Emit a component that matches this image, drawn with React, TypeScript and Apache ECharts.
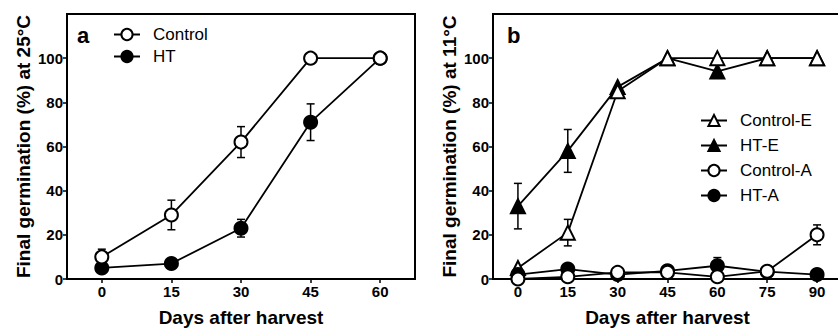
import React, { useEffect, useRef } from "react";
import * as echarts from "echarts";

// Panel a (25°C)
const daysA = [0, 15, 30, 45, 60];
const ctrl25 = [10, 29, 62, 100, 100];
const ctrl25Err = [3.5, 6.7, 7, 0, 0];
const ht25 = [5, 7, 23, 71, 100];
const ht25Err = [0, 0, 4, 8.3, 0];

// Panel b (11°C)
const daysB = [0, 15, 30, 45, 60, 75, 90];
const ctrlE11 = [5, 21, 85, 100, 100, 100, 100];
const ctrlE11Err = [0, 6, 0, 0, 0, 0, 0];
const htE11 = [33, 58, 87, 100, 94, 100, 100];
const htE11Err = [10.3, 9.7, 0, 0, 0, 0, 0];
const ctrlA11 = [0, 1, 3, 3, 1, 3.5, 20];
const ctrlA11Err = [0, 0, 0, 0, 0, 0, 4.5];
const htA11 = [2, 4.5, 2, 3.7, 6, 3.3, 2];
const htA11Err = [0, 0, 0, 0, 3.7, 0, 0];

const ticksA = [0, 15, 30, 45, 60];
const ticksB = [0, 15, 30, 45, 60, 75, 90];
const ticksY = [0, 20, 40, 60, 80, 100];

const FONT = 'Arial, "Liberation Sans", Helvetica, sans-serif';

const pairs = (xs: number[], ys: number[]) => xs.map((x, i) => [x, ys[i]]);
const errs = (xs: number[], ys: number[], es: number[]) =>
  xs.flatMap((x, i) => (es[i] > 0 ? [[x, ys[i] - es[i], ys[i] + es[i]]] : []));

const renderErr = (params: any, api: any) => {
  const x = api.value(0);
  const lo = api.coord([x, api.value(1)]);
  const hi = api.coord([x, api.value(2)]);
  const w = 4;
  const st = { stroke: "#000", lineWidth: 1.5 };
  return {
    type: "group",
    children: [
      { type: "line", shape: { x1: lo[0], y1: lo[1], x2: hi[0], y2: hi[1] }, style: st },
      { type: "line", shape: { x1: hi[0] - w, y1: hi[1], x2: hi[0] + w, y2: hi[1] }, style: st },
      { type: "line", shape: { x1: lo[0] - w, y1: lo[1], x2: lo[0] + w, y2: lo[1] }, style: st },
    ],
  };
};

const openStyle = { color: "#fff", borderColor: "#000", borderWidth: 2 };
const fillStyle = { color: "#000", borderColor: "#000", borderWidth: 2 };
const lineSt = { color: "#000", width: 1.8 };

const xAxisBase = (min: number, max: number, ticks: number[], gridIndex: number) => ({
  type: "value",
  gridIndex,
  min,
  max,
  name: "Days after harvest",
  nameLocation: "middle",
  nameGap: 29,
  nameTextStyle: { fontSize: 19, fontWeight: "bold", color: "#000", fontFamily: FONT },
  axisLine: { show: true, onZero: false, lineStyle: { color: "#000", width: 2 } },
  axisTick: { show: true, customValues: ticks, length: 4, lineStyle: { color: "#000", width: 1.5 } },
  axisLabel: { customValues: ticks, margin: 5, fontSize: 15, fontWeight: "bold", color: "#000", fontFamily: FONT },
  splitLine: { show: false },
});

const yAxisBase = (name: string, gridIndex: number) => ({
  type: "value",
  gridIndex,
  min: 0,
  max: 120,
  name,
  nameLocation: "middle",
  nameGap: 34,
  nameTextStyle: { fontSize: 19, fontWeight: "bold", color: "#000", fontFamily: FONT },
  axisLine: { show: true, onZero: false, lineStyle: { color: "#000", width: 2 } },
  axisTick: { show: true, customValues: ticksY, length: 4, lineStyle: { color: "#000", width: 1.5 } },
  axisLabel: { customValues: ticksY, margin: 4, fontSize: 15, fontWeight: "bold", color: "#000", fontFamily: FONT },
  splitLine: { show: false },
});

const lineSeries = (name: string, data: number[][], symbol: string, size: number, open: boolean, idx: number) => ({
  type: "line",
  name,
  data,
  xAxisIndex: idx,
  yAxisIndex: idx,
  symbol,
  symbolSize: size,
  showAllSymbol: true,
  lineStyle: lineSt,
  itemStyle: open ? openStyle : fillStyle,
  z: 3,
});

export default function App() {
  const ref = useRef<HTMLDivElement>(null);
  useEffect(() => {
    if (!ref.current) return;
    const chart = echarts.init(ref.current, undefined, { renderer: "svg" });
    const option: any = {
      animation: false,
      textStyle: { fontFamily: FONT },
      grid: [
        { left: 67, top: 14, width: 348, height: 265, outerBoundsMode: "none", containLabel: false, show: true, borderColor: "#000", borderWidth: 2, backgroundColor: "transparent" },
        { left: 493, top: 14, width: 349, height: 265, outerBoundsMode: "none", containLabel: false, show: true, borderColor: "#000", borderWidth: 2, backgroundColor: "transparent" },
      ],
      xAxis: [xAxisBase(-7.5, 67.5, ticksA, 0), xAxisBase(-7.5, 97.5, ticksB, 1)],
      yAxis: [yAxisBase("Final germination (%) at 25°C", 0), yAxisBase("Final germination (%) at 11°C", 1)],
      legend: [
        {
          data: ["Control", "HT"],
          orient: "vertical",
          left: 113,
          top: 26,
          padding: 0,
          itemWidth: 26,
          itemHeight: 14,
          itemGap: 5,
          textStyle: { fontSize: 17, color: "#000", fontFamily: FONT, padding: [0, 0, 0, 8] },
          selectedMode: false,
        },
        {
          data: ["Control-E", "HT-E", "Control-A", "HT-A"],
          orient: "vertical",
          left: 700,
          top: 112,
          padding: 0,
          itemWidth: 26,
          itemHeight: 14,
          itemGap: 8,
          textStyle: { fontSize: 17, color: "#000", fontFamily: FONT, padding: [0, 0, 0, 8] },
          selectedMode: false,
        },
      ],
      graphic: [
        { type: "text", left: 77, top: 24, style: { text: "a", font: `bold 22px ${FONT}`, fill: "#000" } },
        { type: "text", left: 507, top: 24, style: { text: "b", font: `bold 22px ${FONT}`, fill: "#000" } },
      ],
      series: [
        {
          type: "custom",
          name: "errA",
          xAxisIndex: 0,
          yAxisIndex: 0,
          renderItem: renderErr,
          encode: { x: 0, y: [1, 2] },
          data: [...errs(daysA, ctrl25, ctrl25Err), ...errs(daysA, ht25, ht25Err)],
          z: 2,
        },
        {
          type: "custom",
          name: "errB",
          xAxisIndex: 1,
          yAxisIndex: 1,
          renderItem: renderErr,
          encode: { x: 0, y: [1, 2] },
          data: [
            ...errs(daysB, ctrlE11, ctrlE11Err),
            ...errs(daysB, htE11, htE11Err),
            ...errs(daysB, ctrlA11, ctrlA11Err),
            ...errs(daysB, htA11, htA11Err),
          ],
          z: 2,
        },
        lineSeries("HT", pairs(daysA, ht25), "circle", 13, false, 0),
        lineSeries("Control", pairs(daysA, ctrl25), "circle", 13, true, 0),
        lineSeries("HT-E", pairs(daysB, htE11), "triangle", 14, false, 1),
        lineSeries("Control-E", pairs(daysB, ctrlE11), "triangle", 14, true, 1),
        lineSeries("HT-A", pairs(daysB, htA11), "circle", 13, false, 1),
        lineSeries("Control-A", pairs(daysB, ctrlA11), "circle", 13, true, 1),
      ],
    };
    chart.setOption(option);
    return () => chart.dispose();
  }, []);
  return <div ref={ref} style={{ position: "absolute", left: 0, top: 0, width: 838, height: 328 }} />;
}
